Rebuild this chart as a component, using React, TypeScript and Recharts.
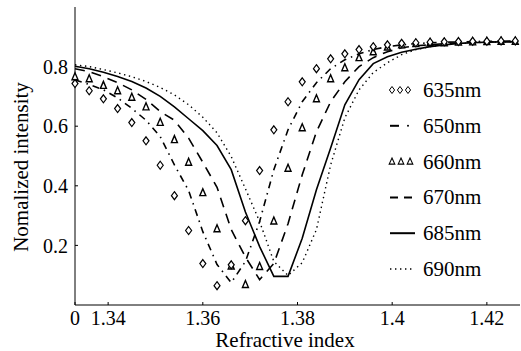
import { Legend, Line, LineChart, XAxis, YAxis } from "recharts";

const refractiveIndex = [
  1.333, 1.336, 1.339, 1.342, 1.345, 1.348, 1.351, 1.354, 1.357, 1.36, 1.363, 1.366, 1.369, 1.372, 1.375, 1.378,
  1.381, 1.384, 1.387, 1.39, 1.393, 1.396, 1.399, 1.402, 1.405, 1.408, 1.411, 1.414, 1.417, 1.42, 1.423, 1.426,
];

const nm635 = [
  0.743, 0.719, 0.692, 0.659, 0.612, 0.551, 0.469, 0.367, 0.25, 0.139, 0.065, 0.135, 0.283, 0.451, 0.588, 0.682,
  0.749, 0.793, 0.826, 0.843, 0.857, 0.867, 0.873, 0.878, 0.88, 0.882, 0.883, 0.884, 0.885, 0.885, 0.886, 0.886,
];
const nm650 = [
  0.755, 0.74, 0.722, 0.695, 0.66, 0.62, 0.565, 0.47, 0.384, 0.246, 0.136, 0.075, 0.146, 0.28, 0.454, 0.588,
  0.682, 0.746, 0.793, 0.823, 0.843, 0.857, 0.867, 0.873, 0.877, 0.88, 0.882, 0.883, 0.884, 0.885, 0.885, 0.886,
];
const nm660 = [
  0.766, 0.759, 0.737, 0.719, 0.697, 0.665, 0.613, 0.555, 0.479, 0.377, 0.256, 0.131, 0.069, 0.129, 0.282, 0.459,
  0.595, 0.692, 0.759, 0.796, 0.83, 0.85, 0.866, 0.873, 0.877, 0.88, 0.88, 0.882, 0.883, 0.884, 0.885, 0.885,
];
const nm670 = [
  0.793, 0.783, 0.766, 0.746, 0.722, 0.69, 0.649, 0.62, 0.56, 0.479, 0.395, 0.253, 0.161, 0.085, 0.139, 0.273,
  0.437, 0.581, 0.682, 0.749, 0.8, 0.83, 0.85, 0.863, 0.87, 0.873, 0.877, 0.88, 0.882, 0.883, 0.884, 0.884,
];
const nm685 = [
  0.801, 0.793, 0.781, 0.767, 0.75, 0.728, 0.7, 0.665, 0.625, 0.585, 0.535, 0.454, 0.312, 0.196, 0.096, 0.096,
  0.224, 0.387, 0.527, 0.672, 0.756, 0.81, 0.833, 0.848, 0.858, 0.867, 0.873, 0.878, 0.88, 0.882, 0.883, 0.883,
];
const nm690 = [
  0.806, 0.8, 0.79, 0.779, 0.766, 0.75, 0.73, 0.705, 0.672, 0.63, 0.578, 0.498, 0.39, 0.28, 0.146, 0.099,
  0.142, 0.253, 0.47, 0.628, 0.722, 0.78, 0.813, 0.84, 0.857, 0.867, 0.873, 0.877, 0.88, 0.882, 0.883, 0.883,
];

const xTicks = [1.333, 1.34, 1.36, 1.38, 1.4, 1.42];
const yTicks = [0.2, 0.4, 0.6, 0.8];
const legendLabels = ["635nm", "650nm", "660nm", "670nm", "685nm", "690nm"];

const data = refractiveIndex.map((n, i) => ({
  n,
  nm635: nm635[i],
  nm650: nm650[i],
  nm660: nm660[i],
  nm670: nm670[i],
  nm685: nm685[i],
  nm690: nm690[i],
}));

const FONT = "Liberation Serif, Times New Roman, serif";
const textStyle = { fontFamily: FONT };

function Diamond(props: any) {
  const { cx, cy, index } = props;
  if (cx == null || cy == null) return <g key={index} />;
  return (
    <path
      key={index}
      d={`M${cx},${cy - 4} L${cx + 3},${cy} L${cx},${cy + 4} L${cx - 3},${cy} Z`}
      fill="#fff"
      stroke="#000"
      strokeWidth={1.2}
    />
  );
}

function Triangle(props: any) {
  const { cx, cy, index } = props;
  if (cx == null || cy == null) return <g key={index} />;
  return (
    <path
      key={index}
      d={`M${cx},${cy - 4} L${cx + 3},${cy + 3} L${cx - 3},${cy + 3} Z`}
      fill="#fff"
      stroke="#000"
      strokeWidth={1.4}
    />
  );
}

function LegendBox() {
  const rowY = (i: number) => 18 + i * 35.8;
  return (
    <svg width={136} height={220} style={{ overflow: "visible" }}>
      {[7, 15, 23].map((x) => (
        <path key={`d${x}`} d={`M${x},${rowY(0) - 3.5} L${x + 2.6},${rowY(0)} L${x},${rowY(0) + 3.5} L${x - 2.6},${rowY(0)} Z`} fill="none" stroke="#000" strokeWidth={1} />
      ))}
      <line x1={5} x2={14} y1={rowY(1)} y2={rowY(1)} stroke="#000" strokeWidth={2} />
      <circle cx={23} cy={rowY(1)} r={1} fill="#000" />
      {[7, 16, 25].map((x) => (
        <path key={`t${x}`} d={`M${x},${rowY(2) - 3.5} L${x + 2.8},${rowY(2) + 2.5} L${x - 2.8},${rowY(2) + 2.5} Z`} fill="none" stroke="#000" strokeWidth={1.1} />
      ))}
      <line x1={5} x2={30} y1={rowY(3)} y2={rowY(3)} stroke="#000" strokeWidth={2} strokeDasharray="8 6" />
      <line x1={5} x2={30} y1={rowY(4)} y2={rowY(4)} stroke="#000" strokeWidth={2} />
      <line x1={5} x2={30} y1={rowY(5)} y2={rowY(5)} stroke="#000" strokeWidth={1.4} strokeDasharray="1.4 3.6" />
      {legendLabels.map((label, i) => (
        <text key={label} x={38} y={rowY(i) + 7} fontSize={21} fontFamily={FONT} style={textStyle} fill="#000">
          {label}
        </text>
      ))}
    </svg>
  );
}

export default function App() {
  return (
    <div style={{ position: "absolute", left: 0, top: 0, width: 521, height: 351, background: "#fff", fontFamily: FONT }}>
      <LineChart width={521} height={351} data={data} margin={{ top: 7, right: 1, left: 0, bottom: 0 }}>
        <XAxis
          dataKey="n"
          type="number"
          domain={[1.333, 1.427]}
          ticks={xTicks}
          interval={0}
          height={46}
          tickSize={-3}
          tickMargin={9}
          stroke="#000"
          tick={{ fill: "#000", fontSize: 20, fontFamily: FONT, style: textStyle }}
          tickFormatter={(v: number) => (v === 1.333 ? "0" : String(v))}
          label={{
            content: () => (
              <text x={285} y={347} textAnchor="middle" fontSize={21} fontFamily={FONT} style={textStyle} fill="#000">
                Refractive index
              </text>
            ),
          }}
        />
        <YAxis
          type="number"
          domain={[0, 1]}
          ticks={yTicks}
          width={75}
          tickSize={-3}
          tickMargin={10}
          stroke="#000"
          tick={{ fill: "#000", fontSize: 20, fontFamily: FONT, style: textStyle }}
          tickFormatter={(v: number) => v.toFixed(1)}
          label={{
            content: () => (
              <text x={28} y={167} transform="rotate(-90 28 167)" textAnchor="middle" fontSize={21} fontFamily={FONT} style={textStyle} fill="#000">
                Nomalized intensity
              </text>
            ),
          }}
        />
        <Legend
          layout="horizontal"
          verticalAlign="middle"
          align="center"
          wrapperStyle={{ left: 385, top: 72, width: 136, height: 220 }}
          content={() => <LegendBox />}
        />
        <Line type="linear" dataKey="nm690" stroke="#000" strokeWidth={1.4} strokeDasharray="1.4 3.6" dot={false} isAnimationActive={false} />
        <Line type="linear" dataKey="nm685" stroke="#000" strokeWidth={1.6} dot={false} isAnimationActive={false} />
        <Line type="linear" dataKey="nm670" stroke="#000" strokeWidth={1.6} strokeDasharray="10 7" dot={false} isAnimationActive={false} />
        <Line type="linear" dataKey="nm650" stroke="#000" strokeWidth={1.6} strokeDasharray="7 5 1.5 5" dot={false} isAnimationActive={false} />
        <Line type="linear" dataKey="nm660" stroke="none" dot={Triangle} activeDot={false} isAnimationActive={false} />
        <Line type="linear" dataKey="nm635" stroke="none" dot={Diamond} activeDot={false} isAnimationActive={false} />
      </LineChart>
    </div>
  );
}
